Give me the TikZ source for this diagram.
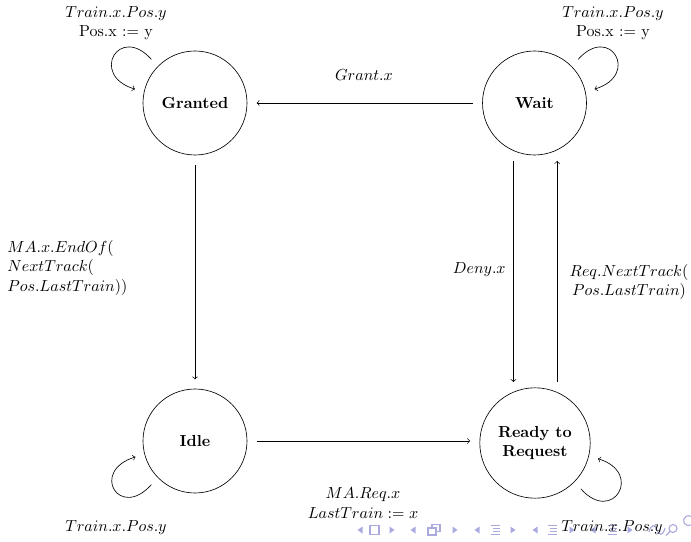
\documentclass[tikz,border=0pt]{standalone}
\usetikzlibrary{calc}
\definecolor{navc}{RGB}{170,170,222}
\begin{document}
\begin{tikzpicture}[x=0.625pt,y=-0.625pt,
  state/.style={circle,draw,minimum size=65pt,outer sep=6pt,font=\bfseries,align=center,inner sep=2pt},
  lbl/.style={align=center,inner sep=0pt},
  navline/.style={draw=navc,line width=0.7pt},
  navfill/.style={fill=navc}]
\useasboundingbox (0,0) rectangle (691,542);

% navigation symbols along the bottom edge
\foreach \x in {360,413,477,535,593}{
  \fill[navfill] (\x+2.5,526.5) -- (\x+2.5,533.5) -- (\x-2.5,530) -- cycle;}
\foreach \x in {392,455,513,572,630}{
  \fill[navfill] (\x-2.5,526.5) -- (\x-2.5,533.5) -- (\x+2.5,530) -- cycle;}
\draw[navline] (370,525.5) rectangle (379,534.5);
\draw[navline] (432,524.5) rectangle (440,531.5);
\draw[navline,fill=white] (428,528) rectangle (436,535);
\foreach \x in {495,552,612}{
  \draw[navline] (\x-4.5,525.5) -- (\x+4.5,525.5) (\x-2,528.5) -- (\x+4.5,528.5)
                 (\x-2,531.5) -- (\x+4.5,531.5) (\x-4.5,534.5) -- (\x+4.5,534.5);}
\draw[navline] (649,532) .. controls (651,524) and (655,524) .. (657,530)
               .. controls (659,536) and (663,536) .. (665,528);
\draw[navline] (673,528.5) circle (4);
\draw[navline] (670,531.5) -- (666,535.5);
\draw[navline] (691,525) arc (60:300:5);

% states
\node[state] (G) at (195,103) {Granted};
\node[state] (W) at (534.5,103) {Wait};
\node[state] (I) at (195,441) {Idle};
\node[state,minimum size=69pt] (R) at (535,443) {Ready to\\Request};

% transitions
\draw[->] (W.west) -- (G.east);
\draw[->] (G.south) -- (I.north);
\draw[->] (W.250) -- (W.250 |- R.110);
\draw[->] (R.70) -- (R.70 |- W.290);
\draw[->] (I.east) -- (I.east -| R.west);

% self loops
\draw[->] (G.135) .. controls +(-32,-36) and +(-46,-14) .. (G.167);
\draw[->] (W.45) .. controls +(32,-36) and +(46,-14) .. (W.13);
\draw[->] (I.225) .. controls +(-32,36) and +(-46,14) .. (I.195);
\draw[->] (R.-45) .. controls +(32,36) and +(46,14) .. (R.-14);

% transition labels
\node[lbl] (lgrant) at (364,75) {$Grant.x$};
\node[lbl,anchor=west,align=left] (lend) at (7,268)
  {$MA.x.EndOf($\\$NextTrack($\\$Pos.LastTrain))$};
\node[lbl,anchor=east] (ldeny) at (506,270) {$Deny.x$};
\node[lbl] (lreq) at (629,282) {$Req.NextTrack($\\$Pos.LastTrain)$};
\node[lbl] (lmareq) at (363,503) {$MA.Req.x$\\$LastTrain := x$};

% loop labels
\node[lbl] (lgloop) at (116,23) {$Train.x.Pos.y$\\Pos.x := y};
\node[lbl] (lwloop) at (613,23) {$Train.x.Pos.y$\\Pos.x := y};
\node[lbl] (liloop) at (116,528) {$Train.x.Pos.y$};
\node[lbl] (lrloop) at (612,528) {$Train.x.Pos.y$};
\end{tikzpicture}
\end{document}
